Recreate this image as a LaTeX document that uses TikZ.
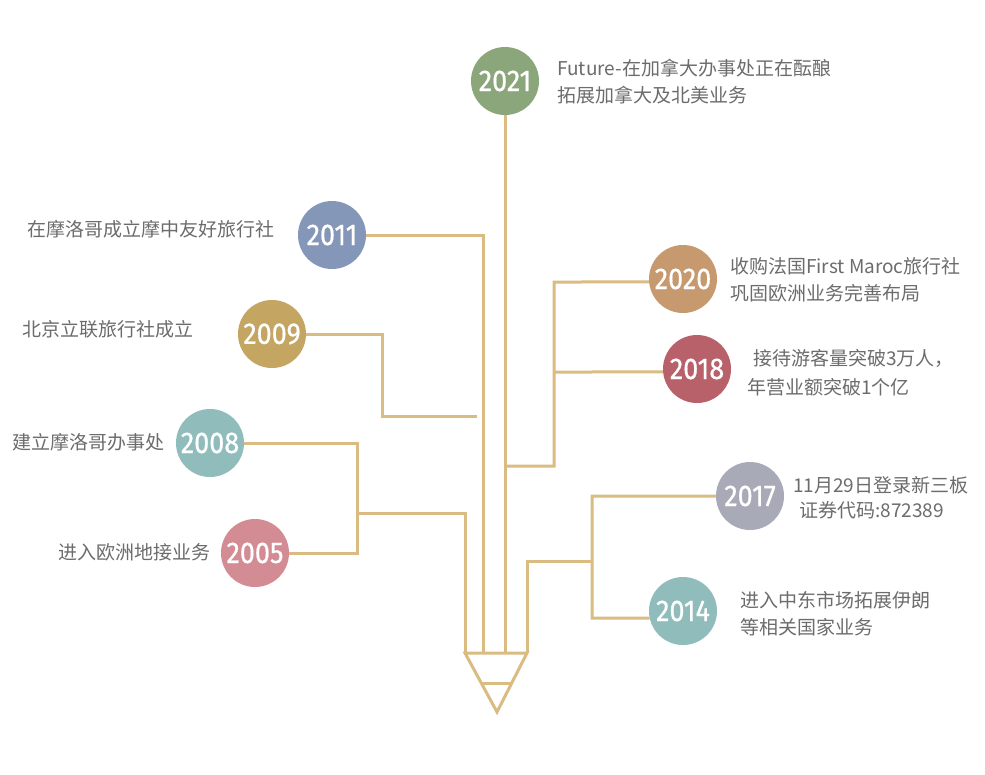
\documentclass[tikz,border=0pt]{standalone}
\usepackage{fontspec}
\newfontfamily\cjk{Noto Sans CJK SC}
\newfontfamily\numf[FakeStretch=0.9,FakeBold=0.6]{Fira Sans}
\definecolor{ln}{RGB}{218,187,130}
\definecolor{txt}{RGB}{108,108,108}
\definecolor{cA}{RGB}{139,166,122}
\definecolor{cB}{RGB}{133,151,184}
\definecolor{cC}{RGB}{199,153,110}
\definecolor{cD}{RGB}{196,165,98}
\definecolor{cE}{RGB}{184,97,106}
\definecolor{cF}{RGB}{144,189,188}
\definecolor{cG}{RGB}{168,170,183}
\definecolor{cH}{RGB}{211,139,148}
\begin{document}
\begin{tikzpicture}[x=1pt,y=-1pt,
  yr/.style={circle, minimum size=68pt, inner sep=0pt, fill=#1, text=white, font=\numf\fontsize{30}{30}\selectfont},
  lbl/.style={anchor=base west, inner sep=0pt, text=txt, font=\cjk\fontsize{19}{23}\selectfont},
  conn/.style={draw=ln, line width=3pt}]
\useasboundingbox[fill=white] (0,0) rectangle (985,774);

% year circles
\node[yr=cA] (y2021) at (505,81) {2021};
\node[yr=cB] (y2011) at (332,235) {2011};
\node[yr=cC] (y2020) at (683,279) {2020};
\node[yr=cD] (y2009) at (272,334) {2009};
\node[yr=cE] (y2018) at (697,369) {2018};
\node[yr=cF] (y2008) at (210,443) {2008};
\node[yr=cG] (y2017) at (750,496) {2017};
\node[yr=cH] (y2005) at (255,553) {2005};
\node[yr=cF] (y2014) at (683,611) {2014};

% pencil points
\coordinate (pl) at (465,653);
\coordinate (pr) at (527,653);
\coordinate (tip) at (497,712);
\coordinate (m1) at (481,683);
\coordinate (m2) at (512,683);

% junction coordinates
\coordinate (b2021) at (505,653);
\coordinate (a2011) at (483,235);
\coordinate (b2011) at (483,653);
\coordinate (a2009) at (382,334);
\coordinate (b2009) at (382,416);
\coordinate (e2009) at (477,416);
\coordinate (s2020) at (505,466);
\coordinate (k2020) at (554,466);
\coordinate (t2020) at (554,282);
\coordinate (t2018) at (554,372);
\coordinate (a2008) at (357,443);
\coordinate (b2008) at (357,553);
\coordinate (j2008) at (357,513);
\coordinate (k2008) at (465,513);
\coordinate (a2017) at (527,561);
\coordinate (j2017) at (592,561);
\coordinate (t2017) at (592,496);
\coordinate (t2014) at (592,618);

% connectors
\draw[conn] (y2021.south) -- (b2021);
\draw[conn] (y2011.east) -- (a2011) -- (b2011);
\draw[conn] (y2009.east) -- (a2009) -- (b2009) -- (e2009);
\draw[conn] (s2020) -- (k2020) -- (t2020) -- (y2020.185);
\draw[conn] (t2018) -- (y2018.185);
\draw[conn] (y2008.east) -- (a2008) -- (b2008) -- (y2005.east);
\draw[conn] (j2008) -- (k2008) -- (pl);
\draw[conn] (pr) -- (a2017) -- (j2017);
\draw[conn] (y2017.west) -- (t2017) -- (t2014) -- (y2014.192);

% pencil tip
\draw[conn] (pl) -- (pr) -- (tip) -- cycle;
\draw[conn] (m1) -- (m2);

% labels
\node[lbl] (l2021a) at (557,75) {Future-在加拿大办事处正在酝酿};
\node[lbl] (l2021b) at (557,102) {拓展加拿大及北美业务};
\node[lbl] (l2011) at (27,236) {在摩洛哥成立摩中友好旅行社};
\node[lbl] (l2020a) at (730,273) {收购法国First Maroc旅行社};
\node[lbl] (l2020b) at (730,300) {巩固欧洲业务完善布局};
\node[lbl] (l2009) at (22,336) {北京立联旅行社成立};
\node[lbl] (l2018a) at (753,365) {接待游客量突破3万人，};
\node[lbl] (l2018b) at (747,394) {年营业额突破1个亿};
\node[lbl] (l2008) at (12,449) {建立摩洛哥办事处};
\node[lbl] (l2017a) at (793,492) {11月29日登录新三板};
\node[lbl] (l2017b) at (799,517) {证券代码:872389};
\node[lbl] (l2005) at (58,559) {进入欧洲地接业务};
\node[lbl] (l2014a) at (740,607) {进入中东市场拓展伊朗};
\node[lbl] (l2014b) at (740,634) {等相关国家业务};
\end{tikzpicture}
\end{document}
